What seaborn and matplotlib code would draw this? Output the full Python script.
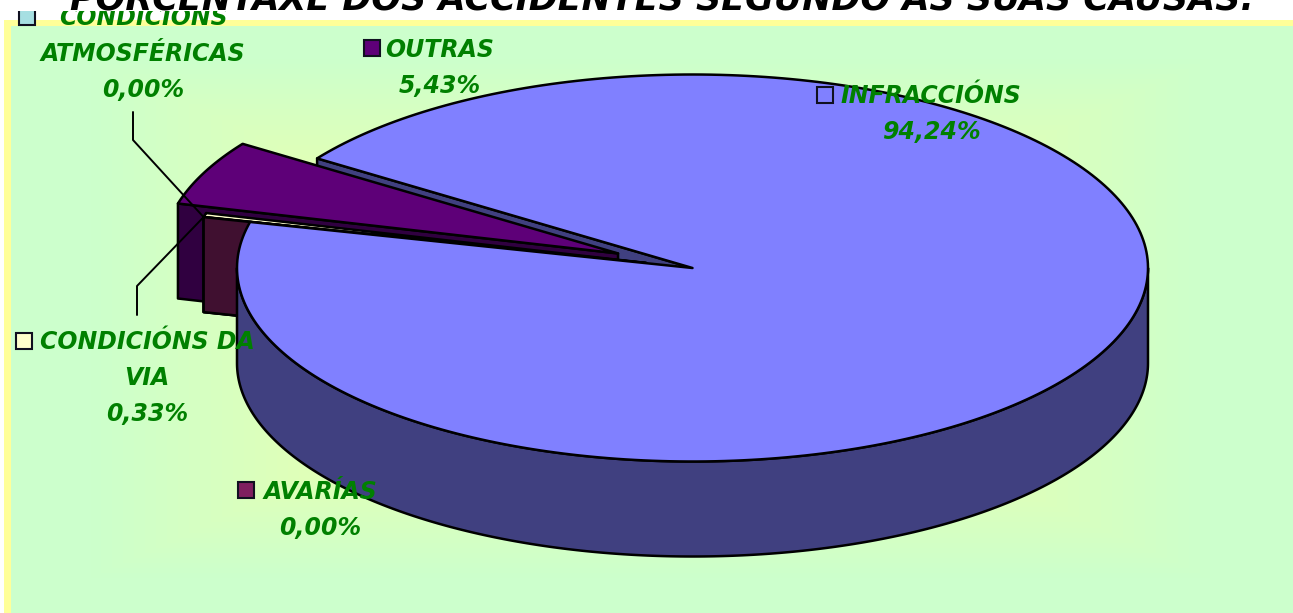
import numpy as np
import seaborn as sns
import matplotlib.pyplot as plt
from matplotlib.colors import to_rgb
from matplotlib.patches import Polygon, Rectangle

# valores do grafico, en orde antihoraria desde o bordo superior de OUTRAS
categorias = ["OUTRAS", "CONDICIÓNS DA VIA", "CONDICIÓNS ATMOSFÉRICAS", "AVARÍAS", "INFRACCIÓNS"]
valores = [5.43, 0.33, 0.00, 0.00, 94.24]
rotulos = ["5,43%", "0,33%", "0,00%", "0,00%", "94,24%"]
explosion = [0.18, 0.105, 0.105, 0.105, 0.0]

cores_tapa = sns.color_palette(["#5e0078", "#ffffcc", "#a6dfe2", "#7f1f5f", "#8080ff"])
cores_lado = sns.color_palette(["#300040", "#808066", "#537072", "#401030", "#404080"])

titulo = "PORCENTAXE DOS ACCIDENTES SEGUNDO AS SÚAS CAUSAS."
verde = "#008000"

W, H = 1293, 613
CX, CY, RX, RY = 692.5, 268.0, 455.5, 193.5
FONDO = 95
INICIO = 145.5

sns.set_theme(style="white")
plt.rcParams["font.family"] = ["DejaVu Sans"]

fig = plt.figure(figsize=(W / 100, H / 100), dpi=100)
ax = fig.add_axes([0, 0, 1, 1])
ax.set_xlim(0, W)
ax.set_ylim(H, 0)
ax.axis("off")


def punto(ang, r=1.0, desp=(0.0, 0.0)):
    a = np.radians(ang)
    return (CX + desp[0] + RX * r * np.cos(a), CY + desp[1] - RY * r * np.sin(a))


def arco(a0, a1, desp=(0.0, 0.0)):
    return [punto(a, 1.0, desp) for a in np.linspace(a0, a1, 300)]


def cara(pts, cor, z):
    ax.add_patch(Polygon(pts, closed=True, facecolor=cor, edgecolor="black", lw=1.8,
                         joinstyle="round", zorder=z))


def baixar(pts):
    return [(x, y + FONDO) for x, y in pts]


# fondo con degradado rectangular
xx, yy = np.meshgrid(np.arange(W), np.arange(H))
t = np.maximum(np.abs(xx - 650) / 560, np.abs(yy - 318) / 260).clip(0, 1)
centro, borde = np.array(to_rgb("#ffff99")), np.array(to_rgb("#ccffcc"))
grad = centro + (borde - centro) * t[..., None]
ax.imshow(grad, extent=(0, W, H, 0), aspect="auto", zorder=0)
ax.set_xlim(0, W)
ax.set_ylim(H, 0)

# marco amarelo e banda branca do titulo
ax.add_patch(Rectangle((4, 20), W, 6, color="#ffff99", lw=0, zorder=1))
ax.add_patch(Rectangle((4, 20), 7, H, color="#ffff99", lw=0, zorder=1))
ax.add_patch(Rectangle((0, 0), 4, H, color="white", lw=0, zorder=1))
ax.add_patch(Rectangle((0, 0), W, 20, color="white", lw=0, zorder=1))

# angulos a partir dos valores
graos = np.array(valores) / sum(valores) * 360
lim = INICIO + np.concatenate([[0], np.cumsum(graos)])
ang0, ang1 = lim[:-1], lim[1:]
desps = []
for i in range(len(valores)):
    m = np.radians((ang0[i] + ang1[i]) / 2)
    desps.append((explosion[i] * RX * np.cos(m), -explosion[i] * RY * np.sin(m)))

# corte traseiro de INFRACCIONS
i_inf = 4
p = punto(ang1[i_inf])
cara([(CX, CY), p, (p[0], p[1] + FONDO), (CX, CY + FONDO)], cores_lado[i_inf], 2)

# porcions separadas, da de atras cara a de diante
for i in range(4):
    d = desps[i]
    ap = punto(0, 0, d)
    fin = punto(ang1[i], 1, d)
    cara([ap, fin] + baixar([fin, ap]), cores_lado[i], 3 + i)
    if graos[i] > 0:
        cara([ap] + arco(ang0[i], ang1[i], d), cores_tapa[i], 3.5 + i)

# INFRACCIONS: lateral dianteiro e tapa
frente = arco(180, 360)
cara(frente + baixar(frente)[::-1], cores_lado[i_inf], 8)
cara([(CX, CY)] + arco(ang0[i_inf], ang1[i_inf]), cores_tapa[i_inf], 9)

# lineas guia
p_at = punto(ang0[2], 1, desps[2])
p_via = punto(ang0[1] + graos[1], 1, desps[1])
ax.plot([133, 133, p_at[0]], [112, 140, p_at[1]], color="black", lw=1.4, zorder=10)
ax.plot([137, 137, p_via[0]], [315, 286, p_via[1]], color="black", lw=1.4, zorder=10)

# etiquetas: indice, linas, centro x, primeira base, caixa da lenda
etiquetas = [
    (0, ["OUTRAS"], 440, 57, (364, 40)),
    (1, ["CONDICIÓNS DA", "VIA"], 147, 349, (16, 333)),
    (3, ["AVARÍAS"], 320, 499, (238, 482)),
    (2, ["CONDICIÓNS", "ATMOSFÉRICAS"], 143, 25, (19, 9)),
    (4, ["INFRACCIÓNS"], 931, 103, (817, 87)),
]
fonte = dict(fontsize=17, fontweight="bold", fontstyle="oblique", color=verde,
             ha="center", va="baseline", zorder=11)
for i, linas, xc, base, caixa in etiquetas:
    for n, texto in enumerate(linas + [rotulos[i]]):
        ax.text(xc, base + 36 * n, texto, **fonte)
    ax.add_patch(Rectangle(caixa, 16, 16, facecolor=cores_tapa[i], edgecolor="#101020",
                           lw=1.5, zorder=11))

# o titulo queda cortado polo bordo superior e tapa o que hai debaixo
ax.add_patch(Rectangle((0, 0), W, 11, color="white", lw=0, zorder=12))
ax.text(662, 9, titulo, fontsize=25.2, fontweight="bold", fontstyle="oblique", color="black",
        ha="center", va="baseline", zorder=13)

fig.savefig("out.png", dpi=100)
